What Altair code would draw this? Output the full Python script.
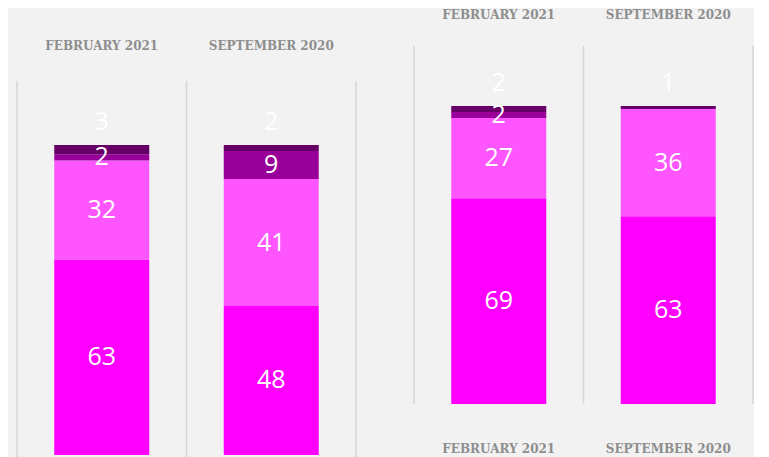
import altair as alt
import pandas as pd

periods = ["FEBRUARY 2021", "SEPTEMBER 2020"]
series = ["Segment 1", "Segment 2", "Segment 3", "Segment 4"]  # bottom to top
colors = ["#FF00FF", "#FF55FF", "#990099", "#660066"]

left_feb = [63, 32, 2, 3]
left_sep = [48, 41, 9, 2]
right_feb = [69, 27, 2, 2]
right_sep = [63, 36, 0, 1]


def make_df(feb, sep):
    rows = []
    for period, vals in zip(periods, [feb, sep]):
        for i, (s, v) in enumerate(zip(series, vals)):
            rows.append({"period": period, "series": s, "order": i, "value": v})
    return pd.DataFrame(rows)


label_axis = dict(
    title=None, domain=False, ticks=False, tickSize=0, grid=False,
    labelFont="DejaVu Serif", labelFontSize=12, labelFontWeight="bold",
    labelColor="#8E8E8E", labelAngle=0,
)


def panel(df, height, y_domain, grid_top, top_axis, bottom_axis=None):
    xscale = alt.Scale(domain=periods, paddingInner=0, paddingOuter=0)
    yscale = alt.Scale(domain=y_domain, nice=False, zero=False)
    base = alt.Chart(df)

    bars = base.mark_bar(size=95).encode(
        x=alt.X("period:N", sort=periods, scale=xscale, axis=alt.Axis(orient="top", **top_axis, **label_axis)),
        y=alt.Y("value:Q", stack="zero", scale=yscale, axis=None),
        color=alt.Color("series:N", scale=alt.Scale(domain=series, range=colors), legend=None),
        order=alt.Order("order:Q"),
    )

    grid_axis = None
    if bottom_axis is not None:
        grid_axis = alt.Axis(orient="bottom", **bottom_axis, **label_axis)
    grid = base.transform_filter("datum.order == 0").mark_rule(color="#D6D6D6", strokeWidth=1.5).encode(
        x=alt.X("period:N", sort=periods, scale=xscale, bandPosition=0, axis=grid_axis),
        y=alt.value(grid_top),
        y2=alt.value(height),
    )
    end_grid = base.transform_filter("datum.order == 0 && datum.period == '%s'" % periods[0]).mark_rule(
        color="#D6D6D6", strokeWidth=1.5
    ).encode(x=alt.value(339), y=alt.value(grid_top), y2=alt.value(height))

    stacked = base.transform_stack(
        stack="value", groupby=["period"], as_=["y0", "y1"], sort=[alt.SortField("order")]
    ).transform_calculate(mid="(datum.y0 + datum.y1) / 2")

    inner = stacked.transform_filter("datum.value > 0 && datum.order < 3").mark_text(
        font="Open Sans", fontSize=25, color="white", baseline="middle"
    ).encode(
        x=alt.X("period:N", sort=periods, scale=xscale, axis=None),
        y=alt.Y("mid:Q", scale=yscale, axis=None),
        text="value:Q",
    )
    top = stacked.transform_filter("datum.value > 0 && datum.order == 3").mark_text(
        font="Open Sans", fontSize=25, color="white", baseline="middle", dy=-23
    ).encode(
        x=alt.X("period:N", sort=periods, scale=xscale, axis=None),
        y=alt.Y("y1:Q", scale=yscale, axis=None),
        text="value:Q",
    )

    layer = alt.layer(grid, end_grid, bars, inner, top).properties(width=339, height=height)
    layer = layer.resolve_axis(x="independent")
    return layer


left = panel(make_df(left_feb, left_sep), 412, [-1, 131.9], 35, dict(offset=-6, labelPadding=0))
right = panel(
    make_df(right_feb, right_sep), 358, [0, 120.13], 0,
    dict(offset=0, labelPadding=25), bottom_axis=dict(offset=0, labelPadding=39),
)

chart = alt.hconcat(
    left, right, spacing=58, bounds="flush",
    padding={"left": 8, "top": 0, "right": 0, "bottom": 0},
).configure(background="#F2F2F2").configure_view(stroke=None)

chart.save("out.html", embed_options={"renderer": "svg", "actions": False})
